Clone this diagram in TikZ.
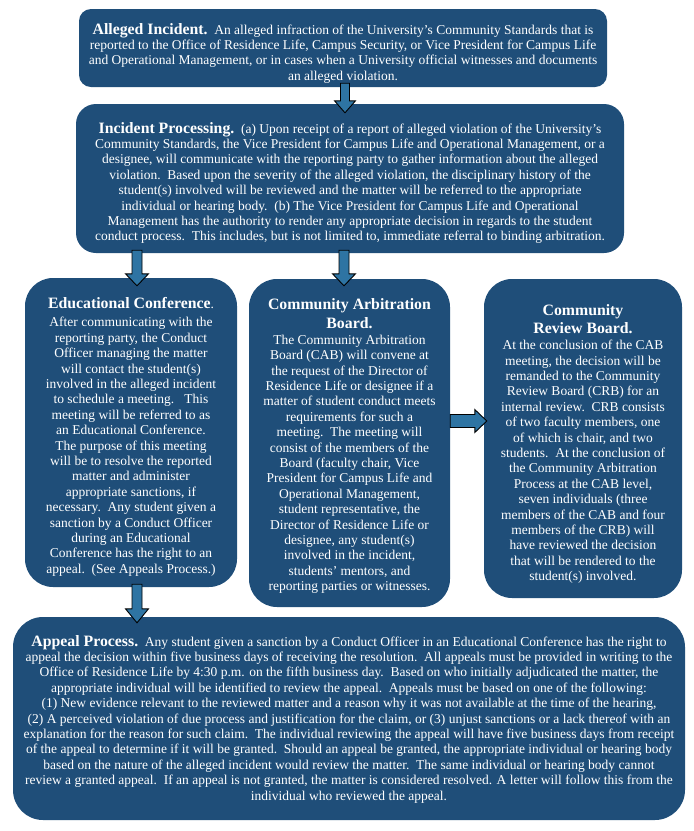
\documentclass[tikz,border=0pt]{standalone}
\usepackage{fontspec}
\setmainfont{Liberation Serif}
\usetikzlibrary{calc}
\definecolor{boxblue}{RGB}{31,78,121}
\definecolor{arrblue}{RGB}{46,116,163}
\tikzset{
  box/.style={fill=boxblue, draw=none, inner sep=0pt},
  txt/.style={text=white, align=center, inner sep=0pt, anchor=north,
    font=\fontsize{13.5}{15.4}\selectfont},
  blk/.style={fill=arrblue, draw=black, line width=0.9pt, line join=miter},
}
\newcommand\hd[1]{{\fontsize{15.8}{15.4}\selectfont\bfseries #1}}
\begin{document}
\begin{tikzpicture}[x=1pt,y=1pt]
\useasboundingbox (0,0) rectangle (694,-831);
% boxes
\node[box, rounded corners=12pt, minimum width=528pt, minimum height=78pt] (b1) at (343,-48) {};
\node[box, rounded corners=20pt, minimum width=548pt, minimum height=149pt] (b2) at (350,-178.5) {};
\node[box, rounded corners=28pt, minimum width=212pt, minimum height=309pt] (b3) at (131,-432.5) {};
\node[box, rounded corners=28pt, minimum width=201pt, minimum height=328pt] (b4) at (349.5,-443) {};
\node[box, rounded corners=28pt, minimum width=198pt, minimum height=319pt] (b5) at (583,-438.5) {};
\node[box, rounded corners=30pt, minimum width=672pt, minimum height=203pt] (b6) at (349,-718.5) {};
% texts
\node[txt] (t1) at (343,-23) {\hd{Alleged Incident.}\ \ An alleged infraction of the University’s Community Standards that is\\
reported to the Office of Residence Life, Campus Security, or Vice President for Campus Life\\
and Operational Management, or in cases when a University official witnesses and documents\\
an alleged violation.};
\node[txt] (t2) at (350,-122) {\hd{Incident Processing.}\ \ (a) Upon receipt of a report of alleged violation of the University’s\\
Community Standards, the Vice President for Campus Life and Operational Management, or a\\
designee, will communicate with the reporting party to gather information about the alleged\\
violation.\ \ Based upon the severity of the alleged violation, the disciplinary history of the\\
student(s) involved will be reviewed and the matter will be referred to the appropriate\\
individual or hearing body.\ \ (b) The Vice President for Campus Life and Operational\\
Management has the authority to render any appropriate decision in regards to the student\\
conduct process.\ \ This includes, but is not limited to, immediate referral to binding arbitration.};
\node[txt] (t3) at (131,-297.5) {\hd{Educational Conference}.\\[2.6pt]
After communicating with the\\
reporting party, the Conduct\\
Officer managing the matter\\
will contact the student(s)\\
involved in the alleged incident\\
to schedule a meeting.\ \ \ This\\
meeting will be referred to as\\
an Educational Conference.\\
The purpose of this meeting\\
will be to resolve the reported\\
matter and administer\\
appropriate sanctions, if\\
necessary.\ \ Any student given a\\
sanction by a Conduct Officer\\
during an Educational\\
Conference has the right to an\\
appeal.\ \ (See Appeals Process.)};
\node[txt] (t4) at (349.5,-298.5) {\hd{Community Arbitration}\\[3.6pt]
\hd{Board.}\\[0.2pt]
The Community Arbitration\\
Board (CAB) will convene at\\
the request of the Director of\\
Residence Life or designee if a\\
matter of student conduct meets\\
requirements for such a\\
meeting.\ \ The meeting will\\
consist of the members of the\\
Board (faculty chair, Vice\\
President for Campus Life and\\
Operational Management,\\
student representative, the\\
Director of Residence Life or\\
designee, any student(s)\\
involved in the incident,\\
students’ mentors, and\\
reporting parties or witnesses.};
\node[txt] (t5) at (583,-304) {\hd{Community}\\[2.6pt]
\hd{Review Board.}\\[1.2pt]
At the conclusion of the CAB\\
meeting, the decision will be\\
remanded to the Community\\
Review Board (CRB) for an\\
internal review.\ \ CRB consists\\
of two faculty members, one\\
of which is chair, and two\\
students.\ \ At the conclusion of\\
the Community Arbitration\\
Process at the CAB level,\\
seven individuals (three\\
members of the CAB and four\\
members of the CRB) will\\
have reviewed the decision\\
that will be rendered to the\\
student(s) involved.};
\node[txt] (t6) at (349,-635) {\hd{Appeal Process.}\ \ Any student given a sanction by a Conduct Officer in an Educational Conference has the right to\\
appeal the decision within five business days of receiving the resolution.\ \ All appeals must be provided in writing to the\\
Office of Residence Life by 4:30 p.m. on the fifth business day.\ \ Based on who initially adjudicated the matter, the\\
appropriate individual will be identified to review the appeal.\ \ Appeals must be based on one of the following:\\
(1) New evidence relevant to the reviewed matter and a reason why it was not available at the time of the hearing,\\
(2) A perceived violation of due process and justification for the claim, or (3) unjust sanctions or a lack thereof with an\\
explanation for the reason for such claim.\ \ The individual reviewing the appeal will have five business days from receipt\\
of the appeal to determine if it will be granted.\ \ Should an appeal be granted, the appropriate individual or hearing body\\
based on the nature of the alleged incident would review the matter.\ \ The same individual or hearing body cannot\\
review a granted appeal.\ \ If an appeal is not granted, the matter is considered resolved. A letter will follow this from the\\
individual who reviewed the appeal.};
% block arrows (down)
\path[blk] let \p1=($(b1.south)+(2,4)$), \p2=($(b2.north)+(-5,-9)$) in
  (\x1-4.5,\y1) -- (\x1+4.5,\y1) -- (\x1+4.5,\y2+12) -- (\x1+10.5,\y2+12) -- (\x1,\y2)
  -- (\x1-10.5,\y2+12) -- (\x1-4.5,\y2+12) -- cycle;
\path[blk] let \p1=($(b2.south -| b3.north)+(6,3)$), \p2=($(b3.north)+(0,-8)$) in
  (\x1-5,\y1) -- (\x1+5,\y1) -- (\x1+5,\y2+12) -- (\x1+11.5,\y2+12) -- (\x1,\y2)
  -- (\x1-11.5,\y2+12) -- (\x1-5,\y2+12) -- cycle;
\path[blk] let \p1=($(b2.south -| b4.north)+(-5.5,3)$), \p2=($(b4.north)+(0,-7)$) in
  (\x1-5,\y1) -- (\x1+5,\y1) -- (\x1+5,\y2+12) -- (\x1+11.5,\y2+12) -- (\x1,\y2)
  -- (\x1-11.5,\y2+12) -- (\x1-5,\y2+12) -- cycle;
\path[blk] let \p1=($(b3.south)+(6,3)$), \p2=($(b6.north -| b3.south)+(0,-6)$) in
  (\x1-5,\y1) -- (\x1+5,\y1) -- (\x1+5,\y2+14) -- (\x1+11.5,\y2+14) -- (\x1,\y2)
  -- (\x1-11.5,\y2+14) -- (\x1-5,\y2+14) -- cycle;
% block arrow (right)
\path[blk] let \p1=($(b4.east)+(0,22)$), \p2=($(b5.west)+(3,0)$) in
  (\x1,\y1+6.5) -- (\x1,\y1-6.5) -- (\x2-12,\y1-6.5) -- (\x2-12,\y1-11.5) -- (\x2,\y1)
  -- (\x2-12,\y1+11.5) -- (\x2-12,\y1+6.5) -- cycle;
\end{tikzpicture}
\end{document}
